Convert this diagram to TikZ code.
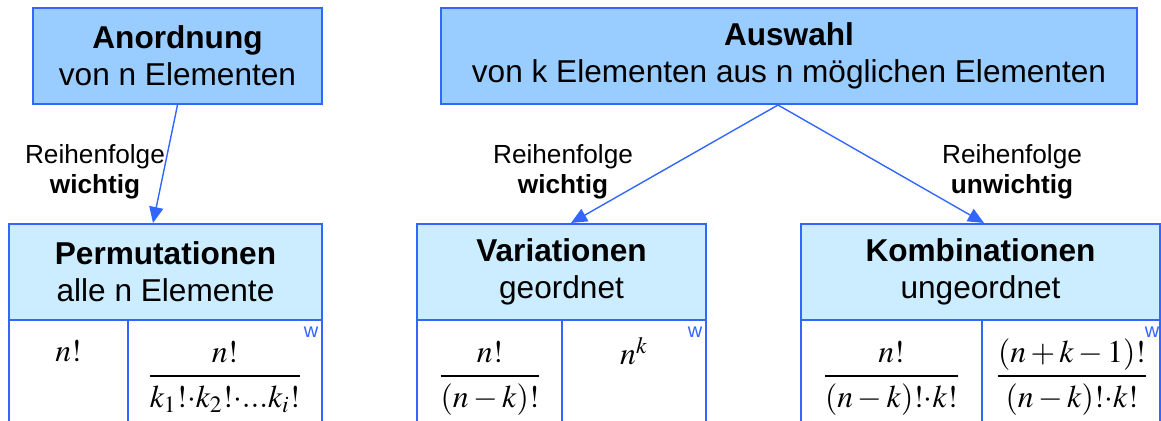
\documentclass[tikz,border=0pt]{standalone}
\usepackage{amsmath}
\usepackage{mathptmx}
\usepackage[no-math]{fontspec}
\setmainfont{Liberation Sans}
\usetikzlibrary{arrows.meta,calc}
\definecolor{boxline}{HTML}{3366FF}
\definecolor{topfill}{HTML}{99CCFF}
\definecolor{headfill}{HTML}{CCECFF}
\newcommand{\denstrut}{\rule{0pt}{13.5pt}}

\begin{document}
\begin{tikzpicture}[
x=0.5pt, y=-0.5pt,
topbox/.style={draw=boxline, line width=1pt, fill=topfill, align=center, inner sep=0pt, minimum height=48pt, font=\fontsize{15.8}{18.5}\selectfont},
headbox/.style={topbox, fill=headfill},
cell/.style={draw=boxline, line width=1pt},
arrow/.style={-{Triangle[length=8pt,width=7pt]}, line width=0.7pt, boxline},
order/.style={align=center, font=\fontsize{13.1}{15}\selectfont},
wmark/.style={text=boxline, font=\fontsize{10}{10}\selectfont, inner sep=0pt},
formula/.style={inner sep=0pt, anchor=base, font=\fontsize{15.8}{18.5}\selectfont}
]
\useasboundingbox (0,0) rectangle (1161,421);
\clip (0,0) rectangle (1161,421);

% tables below the headers
\foreach \lx/\mx/\rx in {9/128/322, 417/562/706, 801/982/1160} {
  \draw[cell] (\lx,320) rectangle (\rx,440);
  \draw[cell] (\mx,320) -- (\mx,440);
}

\node[topbox, minimum width=144.5pt] (anord) at (177.5,56) {\textbf{Anordnung}\\von n Elementen};
\node[topbox, minimum width=348pt] (auswahl) at (789,56) {\textbf{Auswahl}\\von k Elementen aus n möglichen Elementen};

\node[headbox, minimum width=156.5pt] (perm) at (165.5,272) {\textbf{Permutationen}\\alle n Elemente};
\node[headbox, minimum width=144.5pt] (var) at (561.5,272) {\textbf{Variationen}\\geordnet};
\node[headbox, minimum width=179.5pt] (komb) at (980.5,272) {\textbf{Kombinationen}\\ungeordnet};

\coordinate (split) at ($(auswahl.south)+(-11,0)$);
\coordinate (permin) at ($(perm.north)+(-12.5,0)$);
\coordinate (varin) at ($(var.north)+(9.5,0)$);
\coordinate (kombin) at ($(komb.north)+(3.5,0)$);
\draw[arrow] (anord.south) -- (permin);
\draw[arrow] (split) -- (varin);
\draw[arrow] (split) -- (kombin);

\node[order] (lblperm) at (95,172) {Reihenfolge\\\textbf{wichtig}};
\node[order] (lblvar) at (563,172) {Reihenfolge\\\textbf{wichtig}};
\node[order] (lblkomb) at (1012,172) {Reihenfolge\\\textbf{unwichtig}};

\node[formula] (permall) at (68.5,362) {$n!$};
\node[formula] (permmult) at (225,384) {$\dfrac{n!}{\denstrut k_1!{\cdot}k_2!{\cdot}{.}{.}{.}k_i!}$};
\node[formula] (varnorep) at (490,384) {$\dfrac{n!}{\denstrut(n-k)!}$};
\node[formula] (varrep) at (634,365) {$n^k$};
\node[formula] (kombnorep) at (891.5,384) {$\dfrac{n!}{\denstrut(n-k)!{\cdot}k!}$};
\node[formula] (kombrep) at (1072,384) {$\dfrac{(n+k-1)!}{\denstrut(n-k)!{\cdot}k!}$};

\node[wmark] (wperm) at (311,332) {w};
\node[wmark] (wvar) at (695,332) {w};
\node[wmark] (wkomb) at (1152,332) {w};
\end{tikzpicture}
\end{document}
